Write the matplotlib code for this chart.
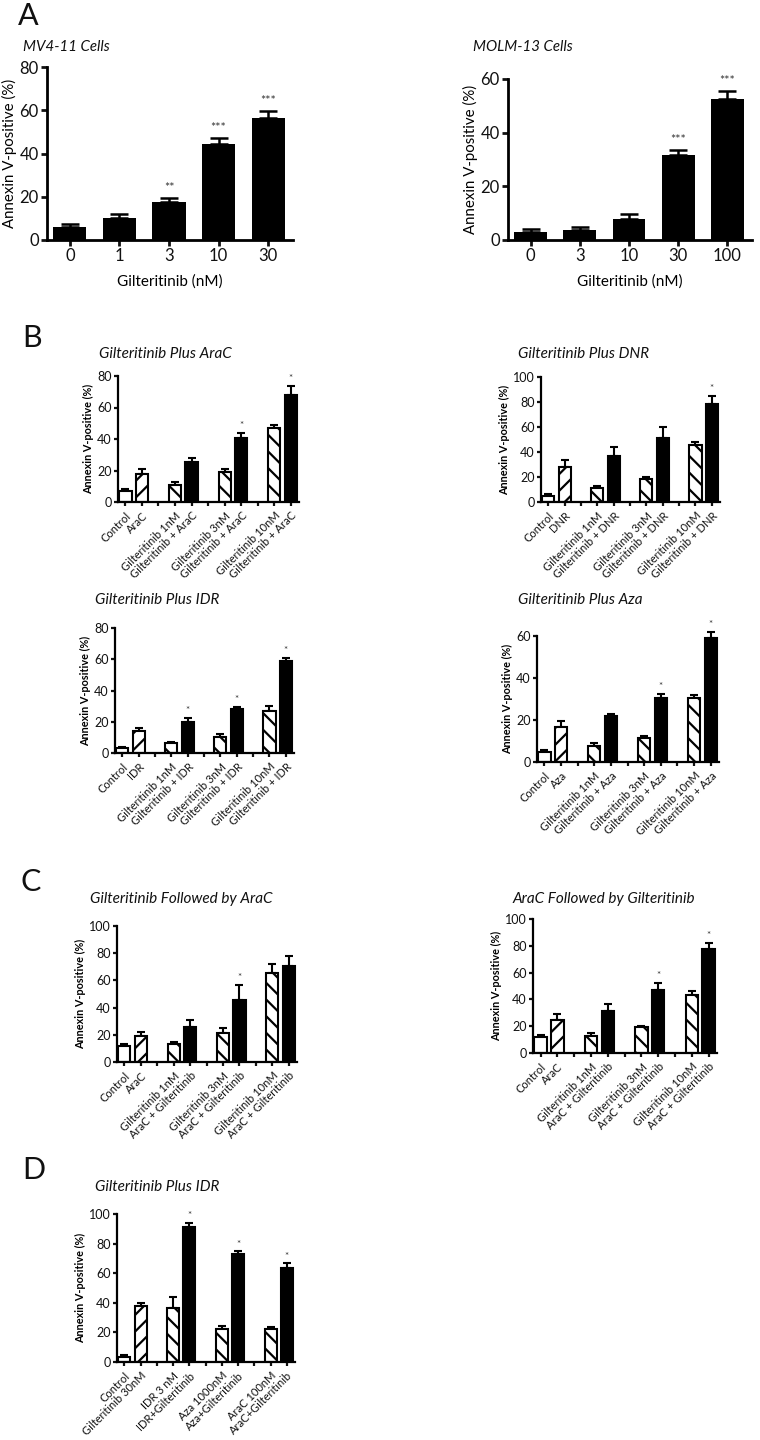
import matplotlib
matplotlib.use('Agg')
import matplotlib.pyplot as plt
import numpy as np

plt.rcParams['font.family'] = ['Lato', 'DejaVu Sans']
plt.rcParams['hatch.linewidth'] = 1.6
plt.rcParams['text.color'] = '#111111'

# ---- data ----
a_doses_mv4 = ['0', '1', '3', '10', '30']
a_vals_mv4 = [6.2, 10.3, 17.4, 44.2, 56.6]
a_err_mv4 = [1.2, 1.5, 1.8, 3.0, 2.9]
a_stars_mv4 = ['', '', '**', '***', '***']

a_doses_molm = ['0', '3', '10', '30', '100']
a_vals_molm = [3.1, 3.8, 7.9, 31.5, 52.5]
a_err_molm = [1.1, 0.9, 1.9, 2.0, 3.0]
a_stars_molm = ['', '', '', '***', '***']

def combo_labels(drug):
    return ['Control', drug,
            'Gilteritinib 1nM', 'Gilteritinib + ' + drug,
            'Gilteritinib 3nM', 'Gilteritinib + ' + drug,
            'Gilteritinib 10nM', 'Gilteritinib + ' + drug]

b_labels_arac = combo_labels('AraC')
b_vals_arac = [7.2, 17.9, 11.0, 25.1, 19.0, 40.5, 46.8, 68.0]
b_err_arac = [1.0, 3.0, 1.7, 2.7, 1.9, 3.5, 2.2, 5.7]
b_stars_arac = ['', '', '', '', '', '*', '', '*']

b_labels_dnr = combo_labels('DNR')
b_vals_dnr = [5.0, 28.4, 11.1, 37.1, 18.3, 51.5, 45.6, 78.8]
b_err_dnr = [1.6, 5.3, 1.4, 7.2, 2.1, 8.7, 2.1, 5.8]
b_stars_dnr = ['', '', '', '', '', '', '', '*']

b_labels_idr = combo_labels('IDR')
b_vals_idr = [3.0, 14.4, 6.2, 19.7, 10.0, 28.2, 27.0, 59.0]
b_err_idr = [0.8, 1.3, 0.8, 3.0, 2.3, 1.1, 3.1, 2.0]
b_stars_idr = ['', '', '', '*', '', '*', '', '*']

b_labels_aza = combo_labels('Aza')
b_vals_aza = [4.9, 16.7, 7.8, 21.9, 11.6, 30.3, 30.3, 58.9]
b_err_aza = [1.0, 2.6, 1.3, 0.9, 0.7, 2.2, 1.7, 2.9]
b_stars_aza = ['', '', '', '', '', '*', '', '*']

c_labels = ['Control', 'AraC',
            'Gilteritinib 1nM', 'AraC + Gilteritinib',
            'Gilteritinib 3nM', 'AraC + Gilteritinib',
            'Gilteritinib 10nM', 'AraC + Gilteritinib']
c_vals_gfirst = [11.8, 19.2, 13.0, 25.8, 21.4, 45.9, 65.1, 70.5]
c_err_gfirst = [1.7, 2.9, 1.7, 4.9, 3.9, 10.6, 6.6, 7.4]
c_stars_gfirst = ['', '', '', '', '', '*', '', '']
c_vals_afirst = [11.7, 24.9, 13.0, 31.6, 19.2, 47.3, 43.5, 77.6]
c_err_afirst = [2.0, 4.5, 1.9, 4.7, 0.9, 4.9, 2.5, 4.4]
c_stars_afirst = ['', '', '', '', '', '*', '', '*']

d_labels = ['Control', 'Gilteritinib 30nM', 'IDR 3 nM', 'IDR+Gilteritinib',
            'Aza 1000nM', 'Aza+Gilteritinib', 'AraC 100nM', 'AraC+Gilteritinib']
d_vals = [3.4, 38.0, 36.7, 91.0, 22.0, 72.9, 22.6, 63.8]
d_err = [1.1, 1.6, 7.4, 2.9, 2.2, 1.8, 1.2, 2.9]
d_stars = ['', '', '', '*', '', '*', '', '*']

# bar styles: control, single drug, single agent, combination
combo_styles = [('white', ''), ('white', '//'), ('white', '\\\\'), ('black', ''),
                ('white', '\\\\'), ('black', ''), ('white', '\\\\'), ('black', '')]
d_styles = [('white', ''), ('white', '//'), ('white', '\\\\'), ('black', ''),
            ('white', '\\\\'), ('black', ''), ('white', '\\\\'), ('black', '')]

W, H = 760, 1440
fig = plt.figure(figsize=(W / 100, H / 100), dpi=100)


def px_axes(x0, ytop, x1, ybot):
    return fig.add_axes([x0 / W, 1 - ybot / H, (x1 - x0) / W, (ybot - ytop) / H])


def style_axes(ax, lw, ticklen, fs):
    for s in ['top', 'right']:
        ax.spines[s].set_visible(False)
    for s in ['left', 'bottom']:
        ax.spines[s].set_linewidth(lw)
    ax.tick_params(direction='out', length=ticklen, width=lw, labelsize=fs,
                   colors='#111111', pad=1.5)


def panel_a(box, doses, vals, errs, stars, ymax, title, tx, ty):
    ax = px_axes(*box)
    x = np.arange(len(vals))
    ax.bar(x, vals, width=0.67, color='black', zorder=2)
    ax.errorbar(x, vals, yerr=[np.zeros(len(errs)), errs], fmt='none',
                ecolor='black', elinewidth=1.8, capsize=6.5, capthick=1.8,
                zorder=1, clip_on=False)
    for xi, v, e, s in zip(x, vals, errs, stars):
        if s:
            ax.annotate(s, (xi, v + e), xytext=(0, 3), textcoords='offset points',
                        ha='center', va='bottom', fontsize=9, color='#333333',
                        annotation_clip=False)
    ax.set_xlim(-0.46, len(vals) - 0.5)
    ax.set_ylim(0, ymax)
    ax.set_yticks(np.arange(0, ymax + 1, 20))
    ax.set_xticks(x)
    ax.set_xticklabels(doses)
    style_axes(ax, 2.0, 4.5, 12)
    ax.set_ylabel('Annexin V-positive (%)', fontsize=10.8, labelpad=2)
    ax.set_xlabel('Gilteritinib (nM)', fontsize=11, labelpad=7)
    fig.text(tx / W, 1 - ty / H, title, fontsize=10.8, style='italic',
             ha='left', va='center')
    return ax


def panel_combo(box, labels, vals, errs, stars, styles, ymax, title, tx, ty):
    ax = px_axes(*box)
    pos = np.array([i // 2 * 3 + i % 2 for i in range(len(vals))])
    for p, v, (fc, hatch) in zip(pos, vals, styles):
        ax.bar(p, v, width=0.74, color=fc, edgecolor='black', linewidth=1.5,
               hatch=hatch, zorder=2)
    ax.errorbar(pos, vals, yerr=[np.zeros(len(errs)), errs], fmt='none',
                ecolor='black', elinewidth=1.5, capsize=2.9, capthick=1.5,
                zorder=1, clip_on=False)
    for p, v, e, s in zip(pos, vals, errs, stars):
        if s:
            ax.annotate(s, (p, v + e), xytext=(0, 2), textcoords='offset points',
                        ha='center', va='bottom', fontsize=7, color='#333333',
                        annotation_clip=False)
    ax.set_xlim(-0.45, pos[-1] + 0.5)
    ax.set_ylim(0, ymax)
    ax.set_yticks(np.arange(0, ymax + 1, 20))
    ticks = np.arange(0, pos[-1] + 1)
    ax.set_xticks(ticks)
    tl = [''] * len(ticks)
    for p, lab in zip(pos, labels):
        tl[p] = lab
    ax.set_xticklabels(tl, rotation=45, ha='right', rotation_mode='anchor')
    style_axes(ax, 1.6, 3.2, 9)
    ax.tick_params(axis='x', labelsize=8, pad=2.5)
    ax.set_ylabel('Annexin V-positive (%)', fontsize=7.8, fontweight='bold', labelpad=2)
    fig.text(tx / W, 1 - ty / H, title, fontsize=11, style='italic',
             ha='left', va='center')
    return ax


panel_a((47, 67, 293, 240), a_doses_mv4, a_vals_mv4, a_err_mv4, a_stars_mv4,
        80, 'MV4-11 Cells', 23, 47)
panel_a((508, 79, 752, 240), a_doses_molm, a_vals_molm, a_err_molm, a_stars_molm,
        60, 'MOLM-13 Cells', 473, 47)

panel_combo((118, 376, 299, 502), b_labels_arac, b_vals_arac, b_err_arac, b_stars_arac,
            combo_styles, 80, 'Gilteritinib Plus AraC', 99, 354)
panel_combo((541, 377, 720, 502), b_labels_dnr, b_vals_dnr, b_err_dnr, b_stars_dnr,
            combo_styles, 100, 'Gilteritinib Plus DNR', 518, 354)
panel_combo((115, 628, 294, 753), b_labels_idr, b_vals_idr, b_err_idr, b_stars_idr,
            combo_styles, 80, 'Gilteritinib Plus IDR', 95, 600)
panel_combo((537, 636, 719, 762), b_labels_aza, b_vals_aza, b_err_aza, b_stars_aza,
            combo_styles, 60, 'Gilteritinib Plus Aza', 518, 600)
panel_combo((117, 926, 297, 1062), c_labels, c_vals_gfirst, c_err_gfirst, c_stars_gfirst,
            combo_styles, 100, 'Gilteritinib Followed by AraC', 90, 899)
panel_combo((533, 919, 717, 1053), c_labels, c_vals_afirst, c_err_afirst, c_stars_afirst,
            combo_styles, 100, 'AraC Followed by Gilteritinib', 513, 899)
panel_combo((117, 1214, 295, 1362), d_labels, d_vals, d_err, d_stars,
            d_styles, 100, 'Gilteritinib Plus IDR', 95, 1187)

# panel letters
for letter, lx, ly in [('A', 18, 16), ('B', 22, 338), ('C', 20, 882), ('D', 22, 1170)]:
    fig.text(lx / W, 1 - ly / H, letter, fontsize=22, ha='left', va='center')

fig.savefig('out.png', dpi=100, facecolor='white')
